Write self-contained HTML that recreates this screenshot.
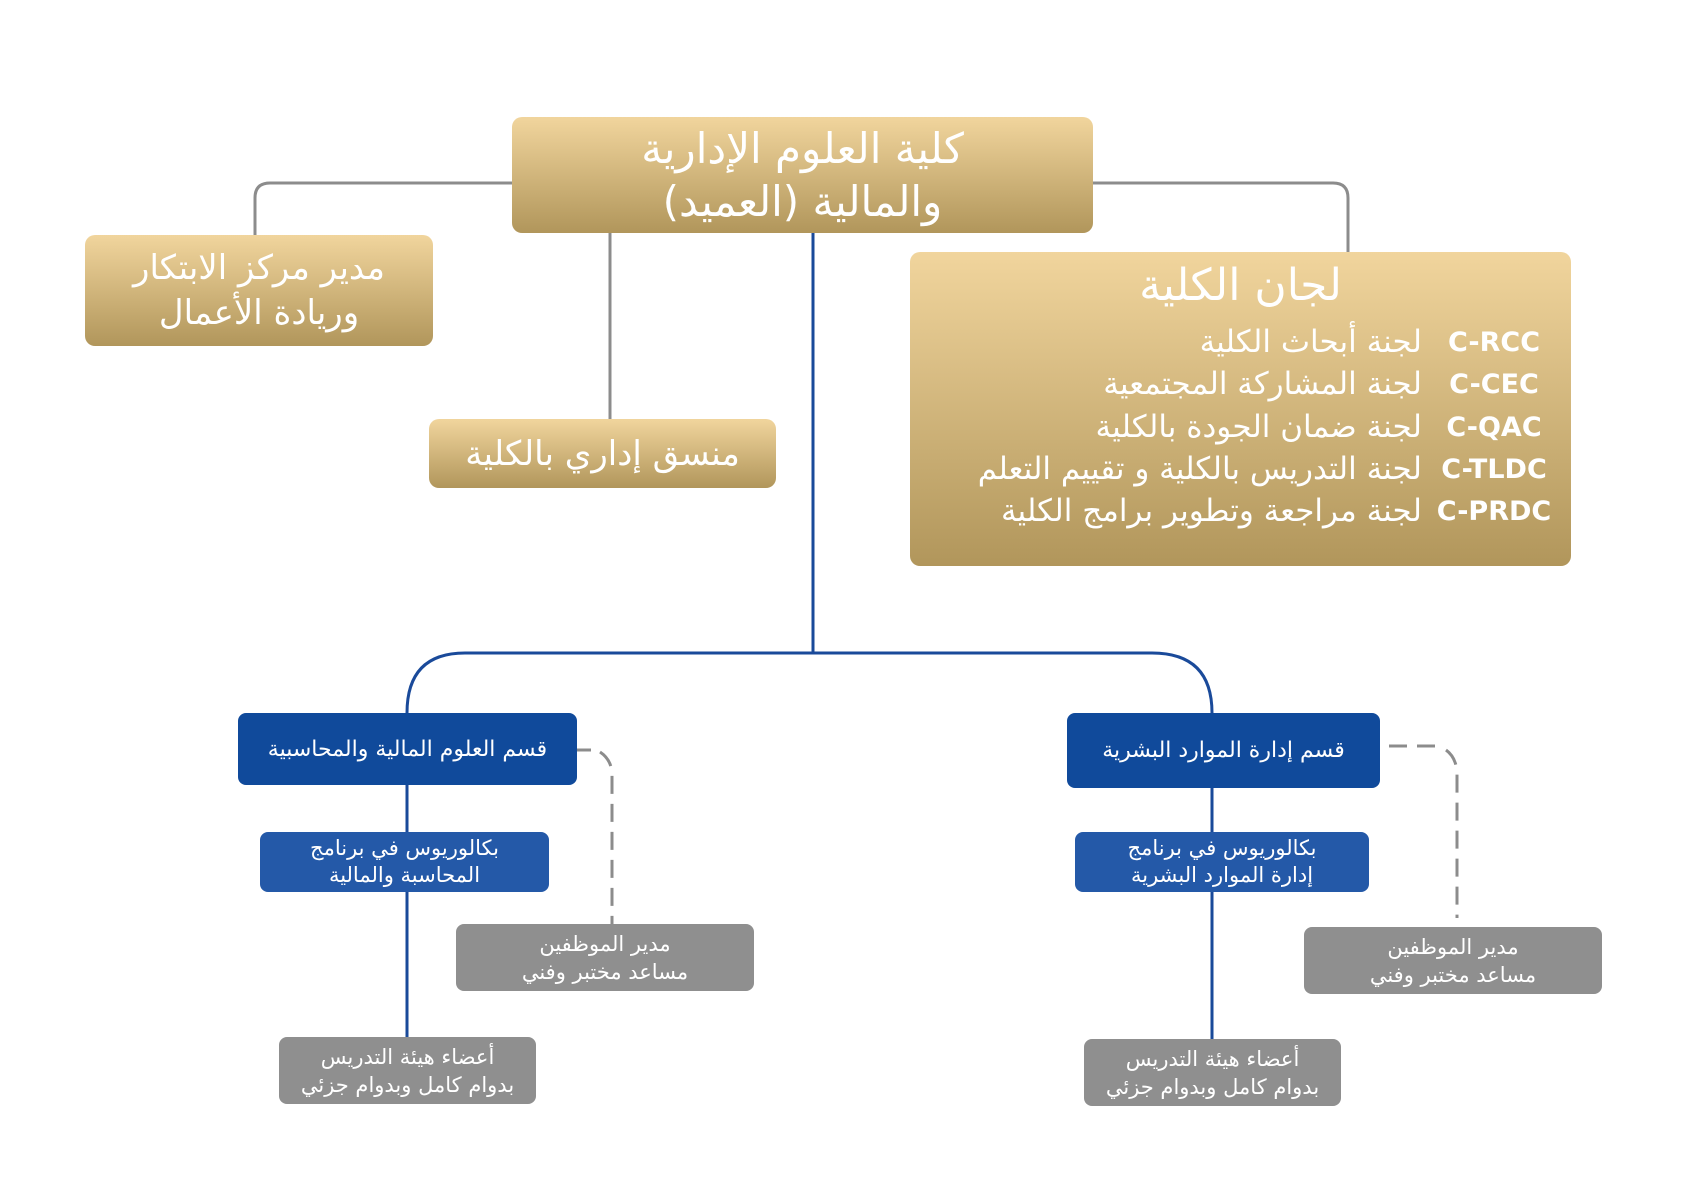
<!DOCTYPE html>
<html><head><meta charset="utf-8"><style>
body{margin:0;width:1685px;height:1192px;background:#fff;position:relative;overflow:hidden;font-family:"DejaVu Sans","Liberation Sans",sans-serif}
.b{position:absolute;display:flex;flex-direction:column;align-items:center;justify-content:center;color:#fff;text-align:center;direction:rtl;box-sizing:border-box}
.g{background:linear-gradient(#f1d59d,#b1965b);border-radius:10px}
.d{background:#104a9b;border-radius:8px}
.c{background:#2459a8;border-radius:8px}
.s{background:#8f8f8f;border-radius:8px}
.n{white-space:nowrap}
.row{position:absolute;right:0;height:40px;display:flex;direction:ltr;align-items:center;gap:13px;white-space:nowrap}
.ar{font-size:31px}
.cd{font-size:27px;font-weight:bold;width:118px}
</style></head><body>
<svg width="1685" height="1192" style="position:absolute;left:0;top:0">
<g fill="none" stroke="#8c8c8c" stroke-width="3">
<path d="M512 183 H270 Q255 183 255 198 V235"/>
<path d="M1093 183 H1333 Q1348 183 1348 198 V252"/>
<path d="M610 233 V419"/>
<path d="M577 750 H595" stroke-dasharray="14 9"/>
<path d="M600 752 Q612 760 612 775 V924" stroke-dasharray="18 10"/>
<path d="M1389 746 H1440" stroke-dasharray="18 10"/>
<path d="M1446 750 Q1457 758 1457 775 V918" stroke-dasharray="18 10"/>
</g>
<g fill="none" stroke="#1a4a9a" stroke-width="3">
<path d="M813 233 V653"/>
<path d="M813 653 H465 Q407 653 407 713"/>
<path d="M813 653 H1152 Q1212 653 1212 713"/>
<path d="M407 785 V1037"/>
<path d="M1212 788 V1039"/>
</g>
</svg>
<div class="b g" style="left:512px;top:117px;width:581px;height:116px;font-size:42px;line-height:53px"><div class="n">كلية العلوم الإدارية<br>والمالية (العميد)</div></div>
<div class="b g" style="left:85px;top:235px;width:348px;height:111px;font-size:34px;line-height:45px"><div class="n">مدير مركز الابتكار<br>وريادة الأعمال</div></div>
<div class="b g" style="left:429px;top:419px;width:347px;height:69px;font-size:34px"><div class="n">منسق إداري بالكلية</div></div>
<div class="b g" style="left:910px;top:252px;width:661px;height:314px;justify-content:flex-start">
<div class="n" style="font-size:44px;margin-top:6px;line-height:56px">لجان الكلية</div>
<div style="position:absolute;right:18px;top:70px;width:650px;height:240px">
<div class="row" style="top:0"><span class="ar">لجنة أبحاث الكلية</span><span class="cd">C-RCC</span></div>
<div class="row" style="top:42px"><span class="ar">لجنة المشاركة المجتمعية</span><span class="cd">C-CEC</span></div>
<div class="row" style="top:85px"><span class="ar">لجنة ضمان الجودة بالكلية</span><span class="cd">C-QAC</span></div>
<div class="row" style="top:127px"><span class="ar">لجنة التدريس بالكلية و تقييم التعلم</span><span class="cd">C-TLDC</span></div>
<div class="row" style="top:169px"><span class="ar">لجنة مراجعة وتطوير برامج الكلية</span><span class="cd">C-PRDC</span></div>
</div></div>
<div class="b d" style="left:238px;top:713px;width:339px;height:72px;font-size:22px"><div class="n">قسم العلوم المالية والمحاسبية</div></div>
<div class="b d" style="left:1067px;top:713px;width:313px;height:75px;font-size:22px"><div class="n">قسم إدارة الموارد البشرية</div></div>
<div class="b c" style="left:260px;top:832px;width:289px;height:60px;font-size:21px;line-height:27px"><div class="n">بكالوريوس في برنامج<br>المحاسبة والمالية</div></div>
<div class="b c" style="left:1075px;top:832px;width:294px;height:60px;font-size:21px;line-height:27px"><div class="n">بكالوريوس في برنامج<br>إدارة الموارد البشرية</div></div>
<div class="b s" style="left:456px;top:924px;width:298px;height:67px;font-size:21px;line-height:28px"><div class="n">مدير الموظفين<br>مساعد مختبر وفني</div></div>
<div class="b s" style="left:1304px;top:927px;width:298px;height:67px;font-size:21px;line-height:28px"><div class="n">مدير الموظفين<br>مساعد مختبر وفني</div></div>
<div class="b s" style="left:279px;top:1037px;width:257px;height:67px;font-size:21px;line-height:28px"><div class="n">أعضاء هيئة التدريس<br>بدوام كامل وبدوام جزئي</div></div>
<div class="b s" style="left:1084px;top:1039px;width:257px;height:67px;font-size:21px;line-height:28px"><div class="n">أعضاء هيئة التدريس<br>بدوام كامل وبدوام جزئي</div></div>
</body></html>
